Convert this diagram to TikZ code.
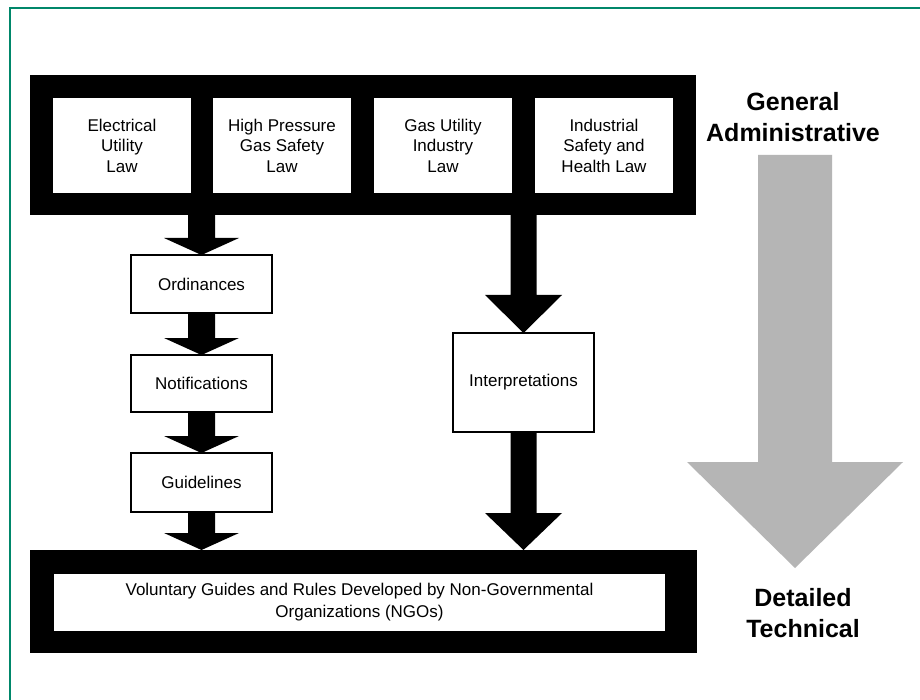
\documentclass[tikz,border=0pt]{standalone}
\usepackage{fontspec}
\setmainfont{Liberation Sans}
\usetikzlibrary{calc}
\definecolor{framegreen}{HTML}{00876A}
\definecolor{arrowgray}{HTML}{B5B5B5}
% #1 start, #2 tip, #3 stem half width, #4 head half width, #5 head length
\newcommand\fatarrow[5]{%
  \fill ($(#1)+(-#3,0)$) -- ($(#2)+(-#3,-#5)$) -- ($(#2)+(-#4,-#5)$) -- (#2)
     -- ($(#2)+(#4,-#5)$) -- ($(#2)+(#3,-#5)$) -- ($(#1)+(#3,0)$) -- cycle;}
\begin{document}
\begin{tikzpicture}[x=1pt,y=-1pt,
  blackframe/.style={fill=black,inner sep=0pt,outer sep=0pt},
  lawbox/.style={fill=white,inner sep=0pt,outer sep=0pt,minimum width=138pt,minimum height=95pt,align=center,font=\fontsize{17}{20.5}\selectfont},
  stepbox/.style={draw=black,line width=2pt,fill=white,inner sep=0pt,outer sep=0pt,minimum width=141pt,align=center,font=\fontsize{17}{21}\selectfont},
  biglabel/.style={align=center,font=\bfseries\fontsize{25}{31.5}\selectfont,inner sep=0pt}]
\useasboundingbox (0,0) rectangle (920,700);
\fill[white] (0,0) rectangle (920,700);
\draw[framegreen,line width=1.3pt] (10,700) |- (920,8);

% top frame with laws
\node[blackframe,minimum width=666pt,minimum height=140pt] (topframe) at (363,145) {};
\node[lawbox] (law1) at (122,145.5) {Electrical\\Utility\\Law};
\node[lawbox] (law2) at (282,145.5) {High Pressure\\Gas Safety\\Law};
\node[lawbox] (law3) at (443,145.5) {Gas Utility\\Industry\\Law};
\node[lawbox] (law4) at (604,145.5) {Industrial\\Safety and\\Health Law};

% bottom frame
\node[blackframe,minimum width=667pt,minimum height=103pt] (botframe) at (363.5,601.5) {};
\node[fill=white,inner sep=0pt,minimum width=611pt,minimum height=57pt,align=center,font=\fontsize{17}{22}\selectfont] (ngo) at (359.5,602) {Voluntary Guides and Rules Developed by Non-Governmental\\Organizations (NGOs)};

% left chain
\node[stepbox,minimum height=58pt] (ord) at (201.5,284) {Ordinances};
\node[stepbox,minimum height=57pt] (notif) at (201.5,383.5) {Notifications};
\node[stepbox,minimum height=59pt] (guide) at (201.5,482.5) {Guidelines};

% right
\node[stepbox,minimum height=99pt] (interp) at (523.5,382.5) {Interpretations};

\coordinate (a1s) at (topframe.south -| ord.north);
\coordinate (a4e) at (botframe.north -| guide.south);
\coordinate (b1s) at (topframe.south -| interp.north);
\coordinate (b2e) at (botframe.north -| interp.south);

\fatarrow{a1s}{ord.north}{13.5}{37.5}{17}
\fatarrow{ord.south}{notif.north}{13.5}{37.5}{17}
\fatarrow{notif.south}{guide.north}{13.5}{37.5}{17}
\fatarrow{guide.south}{a4e}{13.5}{37.5}{17}
\fatarrow{b1s}{interp.north}{13}{38.5}{38}
\fatarrow{interp.south}{b2e}{13}{38.5}{37}

% labels and gray arrow
\node[biglabel] (general) at (793,117) {General\\Administrative};
\node[biglabel] (detailed) at (803,613) {Detailed\\Technical};
\fill[arrowgray] (758,155) -- (832,155) -- (832,462) -- (903,462) -- (795,568)
  -- (687,462) -- (758,462) -- cycle;
\end{tikzpicture}
\end{document}
